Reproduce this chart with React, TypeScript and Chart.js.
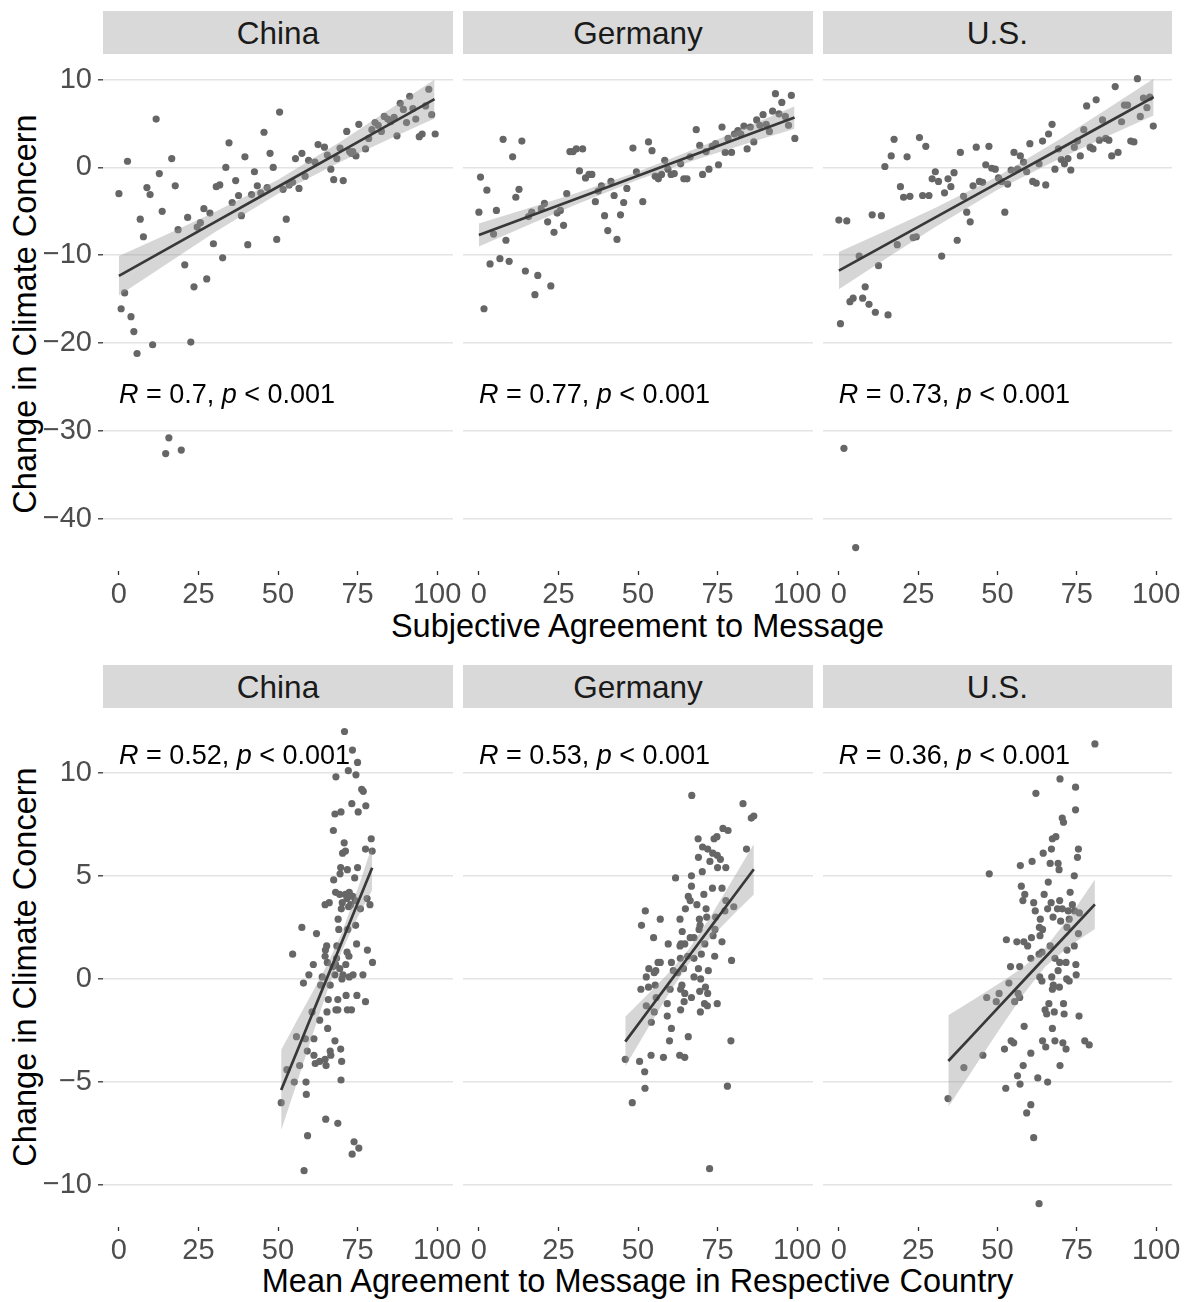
import React, { useEffect, useRef } from 'react';
import { Chart, registerables } from 'chart.js';

Chart.register(...registerables);

const W = 1192;
const H = 1302;
const FONT = '"Liberation Sans", Arial, Helvetica, sans-serif';

// ---------- labels ----------
const countries = ['China', 'Germany', 'U.S.'];
const xTicks = [0, 25, 50, 75, 100];
const topYTicks = [10, 0, -10, -20, -30, -40];
const bottomYTicks = [10, 5, 0, -5, -10];
const topR = ['0.7', '0.77', '0.73'];
const bottomR = ['0.52', '0.53', '0.36'];
const topXTitle = 'Subjective Agreement to Message';
const bottomXTitle = 'Mean Agreement to Message in Respective Country';
const yTitle = 'Change in Climate Concern';
const topYLimits = [-45.97, 12.8];
const bottomYLimits = [-12.03, 13.14];
const xLimits = [-5, 105];
const topLabelY = -26.85;
const bottomLabelY = 10.44;

// ---------- top row: subjective agreement ----------
const subjChina: [number, number][] = [
  [0, -3.0], [2.7, 0.7], [11.7, 5.5], [12.7, -0.7], [16.6, 1.0], [8.8, -2.3], [9.8, -3.1], [17.7, -2.1],
  [6.7, -5.9], [7.7, -7.9], [13.6, -5.0], [18.6, -7.1], [21.6, -5.7], [26.7, -4.7], [25.6, -6.3], [24.6, -6.8],
  [28.6, -5.2], [29.7, -8.7], [20.7, -11.1], [23.6, -13.6], [27.6, -12.7], [32.6, -10.3], [1.8, -14.3], [0.7, -16.1],
  [3.8, -17.0], [4.7, -18.7], [5.7, -21.2], [10.6, -20.2], [22.6, -19.9], [33.6, 0.0], [34.6, 2.8], [30.6, -2.2],
  [31.7, -2.0], [36.7, -1.5], [35.6, -4.0], [37.6, -3.2], [39.6, 1.2], [38.5, -5.5], [40.5, -8.8], [42.6, -0.5],
  [41.7, -3.1], [43.5, -2.1], [44.6, -2.9], [45.6, 4.0], [46.6, -2.3], [47.5, 1.6], [48.5, 0.0], [50.5, 6.3],
  [49.6, -8.2], [51.6, -2.5], [52.6, -5.9], [53.5, -2.0], [54.6, -1.7], [55.5, 1.0], [56.6, -2.4], [57.5, 1.6],
  [58.5, -1.0], [59.6, 0.8], [61.6, 0.6], [62.6, 2.6], [64.6, 2.3], [65.5, 1.4], [66.6, -0.2], [67.5, -1.4],
  [68.5, 1.0], [69.5, 2.2], [70.5, -1.5], [71.6, 4.1], [72.5, 1.8], [73.5, 1.8], [74.5, 1.3], [75.4, 4.9],
  [77.5, 2.1], [78.5, 3.3], [79.5, 4.3], [80.5, 5.1], [81.5, 4.8], [82.5, 4.1], [83.4, 5.8], [84.5, 5.5],
  [85.4, 5.2], [86.5, 5.7], [87.4, 3.6], [88.4, 7.3], [89.4, 6.6], [90.4, 5.1], [91.4, 8.1], [92.4, 6.7],
  [93.3, 5.5], [94.4, 3.5], [95.3, 3.8], [97.4, 8.9], [98.3, 6.0], [99.4, 3.8], [96.4, 7.0], [73.0, 1.6],
  [15.7, -30.8], [14.7, -32.6], [19.6, -32.2],
];

const subjGermany: [number, number][] = [
  [0.5, -1.1], [0, -5.1], [2.5, -2.6], [5.5, -4.9], [4.6, -7.6], [3.5, -11.0], [1.6, -16.1], [6.6, -10.4],
  [7.6, 3.2], [8.5, -8.3], [9.5, -10.7], [10.6, 1.2], [11.6, -3.4], [12.6, -2.5], [13.5, 3.0], [14.6, -11.8],
  [15.6, -5.6], [16.6, -5.1], [17.6, -14.5], [18.5, -12.3], [19.6, -4.7], [20.6, -4.1], [21.6, -6.2], [22.6, -13.5],
  [23.6, -7.4], [24.6, -5.2], [25.6, -4.9], [26.6, -6.6], [27.6, -3.0], [28.6, 1.8], [29.6, 1.8], [30.6, 2.1],
  [31.6, -0.4], [32.6, 2.1], [33.5, -1.2], [34.6, -0.8], [35.5, -0.8], [36.6, -3.9], [37.5, -2.7], [38.5, -2.1],
  [39.5, -5.5], [40.5, -7.2], [41.5, -1.6], [42.5, -3.2], [43.4, -8.2], [44.5, -5.4], [45.5, -4.0], [46.5, -2.4],
  [48.4, 2.2], [49.5, -0.5], [51.5, -3.9], [53.3, 2.9], [54.4, 1.9], [55.4, -1.0], [56.4, -1.3], [57.4, -0.8],
  [58.4, 0.8], [59.4, -0.2], [60.4, -0.8], [61.4, -0.7], [63.4, 0.4], [64.4, -1.3], [65.4, -1.3], [66.4, 1.2],
  [68.3, 4.3], [69.4, 2.5], [70.3, -0.8], [71.4, 1.8], [72.3, -0.2], [73.3, 2.4], [74.4, 2.7], [75.3, 0.3],
  [76.4, 4.6], [77.4, 1.7], [78.3, 3.3], [79.4, 1.7], [80.3, 3.8], [81.4, 4.2], [82.3, 3.8], [83.3, 4.7],
  [84.3, 2.1], [85.3, 4.6], [86.4, 2.9], [87.3, 5.4], [88.3, 4.8], [89.3, 6.0], [90.3, 4.9], [91.3, 4.1],
  [92.3, 6.4], [93.2, 8.4], [94.3, 6.1], [95.2, 7.4], [96.3, 5.8], [97.3, 4.8], [98.2, 8.2], [99.3, 3.3],
];

const subjUS: [number, number][] = [
  [0, -6.0], [2.5, -6.1], [0.5, -17.8], [3.5, -15.3], [4.5, -14.9], [6.4, -10.1], [7.5, -14.9], [8.3, -13.6],
  [9.5, -15.6], [10.5, -5.4], [11.5, -16.5], [12.5, -11.2], [13.4, -5.5], [14.5, 0.1], [15.5, -16.8], [16.5, 1.3],
  [17.4, 3.2], [18.4, -8.8], [19.4, -2.2], [20.4, -3.4], [21.5, 1.2], [22.4, -3.3], [23.4, -8.0], [24.4, -7.9],
  [25.4, 3.4], [26.4, -3.2], [27.4, 2.4], [28.4, -3.2], [29.4, -1.3], [30.4, -0.5], [31.4, -1.6], [32.4, -10.1],
  [33.3, -2.9], [34.4, -1.3], [35.3, -2.2], [36.3, -0.6], [37.3, -8.3], [38.3, 1.7], [39.3, -3.3], [40.3, -5.1],
  [41.4, -6.2], [42.3, -2.1], [43.3, 2.3], [44.3, -1.6], [45.3, -1.7], [46.3, 0.3], [47.3, 2.4], [48.2, -0.1],
  [49.3, -0.2], [50.3, -1.2], [51.3, -1.6], [52.3, -5.1], [53.2, -1.9], [54.3, -0.3], [55.2, 1.7], [56.3, -0.2],
  [57.2, 1.3], [58.2, 0.6], [59.2, -0.5], [60.2, 2.7], [61.1, -1.6], [62.2, -1.8], [63.1, 0.4], [64.2, 3.0],
  [65.2, -2.0], [66.1, 3.8], [67.2, 4.9], [68.1, -0.2], [69.2, 2.1], [70.1, 0.9], [71.1, 0.4], [72.2, 1.0],
  [73.1, -0.3], [74.2, 2.3], [75.2, 3.0], [76.1, 1.3], [77.2, 4.3], [78.1, 7.0], [79.2, 2.3], [80.1, 2.1],
  [81.1, 7.7], [82.1, 3.1], [83.1, 5.4], [84.1, 3.3], [85.1, 3.1], [86.0, 1.3], [87.1, 9.2], [88.0, 1.7],
  [89.1, 5.2], [90.0, 7.1], [91.0, 7.1], [92.0, 3.0], [93.0, 2.9], [94.1, 10.1], [95.0, 5.8], [96.0, 7.9],
  [97.1, 6.8], [98.0, 8.0], [99.1, 4.7], [1.6, -32.0], [5.3, -43.3],
];

// ---------- bottom row: mean agreement in country ----------
const meanChina: [number, number][] = [
  [70.9, 12.0], [73.4, 11.1], [75.0, 10.5], [72.1, 10.1], [68.2, 9.8], [74.5, 9.9], [76.3, 9.2], [76.8, 9.1],
  [73.2, 8.5], [75.2, 8.1], [77.6, 8.4], [67.9, 8.0], [69.8, 8.1], [67.4, 7.2], [70.8, 6.6], [79.3, 6.8],
  [77.5, 6.3], [79.6, 6.2], [70.3, 6.1], [71.2, 6.2], [69.7, 5.4], [71.8, 5.3], [75.0, 5.4], [69.5, 5.1],
  [67.5, 4.8], [74.1, 4.9], [68.1, 4.2], [69.4, 4.1], [71.2, 4.1], [72.4, 4.2], [71.7, 3.9], [73.5, 4.0],
  [70.2, 3.7], [74.3, 3.8], [66.1, 3.7], [64.8, 3.6], [72.8, 3.6], [69.9, 3.4], [72.2, 3.5], [78.0, 3.9],
  [78.9, 3.6], [75.9, 3.4], [68.9, 2.9], [57.5, 2.5], [62.1, 2.2], [69.1, 2.4], [71.9, 2.4], [74.4, 2.6],
  [65.3, 1.6], [64.9, 1.4], [68.5, 1.6], [71.7, 1.3], [74.7, 1.7], [78.1, 1.4], [54.6, 1.2], [61.1, 0.7],
  [64.8, 1.1], [68.4, 1.0], [72.3, 1.1], [71.3, 0.7], [67.3, 0.6], [69.4, 0.5], [79.7, 0.8], [59.7, 0.2],
  [63.9, 0.1], [67.9, 0.2], [70.4, 0.2], [76.7, 0.2], [73.6, 0.2], [65.5, 0.8], [68.1, 0.7], [72.4, 0.1],
  [58.0, -0.2], [63.4, -0.3], [66.4, -0.3], [70.1, 0.0], [65.8, -1.0], [68.8, -1.0], [71.4, -0.8], [74.8, -0.8],
  [77.5, -1.1], [68.2, -1.5], [68.8, -1.5], [71.8, -1.5], [73.1, -1.5], [60.7, -1.6], [65.4, -1.6], [63.1, -2.0],
  [65.6, -2.4], [67.9, -3.0], [55.8, -2.8], [61.3, -2.9], [58.6, -2.9], [59.2, -3.5], [66.4, -3.5], [69.7, -3.4],
  [61.3, -3.7], [66.6, -3.7], [61.7, -4.1], [63.1, -4.0], [64.8, -3.9], [65.1, -4.2], [70.0, -4.0], [52.8, -4.4],
  [56.8, -4.2], [55.1, -5.0], [58.8, -5.0], [69.8, -4.9], [58.9, -5.6], [51.0, -6.0], [65.0, -6.8], [68.8, -7.0],
  [59.3, -7.6], [73.9, -7.9], [75.4, -8.2], [73.3, -8.5], [58.2, -9.3],
];

const meanGermany: [number, number][] = [
  [66.9, 8.9], [83.0, 8.5], [85.6, 7.8], [86.4, 7.9], [76.7, 7.3], [78.3, 7.2], [68.9, 6.8], [73.9, 6.8],
  [74.8, 6.9], [70.3, 6.4], [71.9, 6.3], [73.5, 6.1], [74.9, 6.0], [75.9, 5.8], [69.0, 5.9], [72.6, 5.7],
  [75.0, 5.4], [77.6, 5.4], [84.1, 6.3], [70.2, 5.2], [66.8, 5.0], [61.8, 4.9], [66.8, 4.5], [73.4, 4.4],
  [76.4, 4.4], [70.7, 4.1], [65.8, 4.0], [66.4, 3.8], [77.6, 3.8], [68.5, 3.6], [71.4, 3.4], [64.9, 3.4],
  [80.1, 3.5], [77.3, 3.3], [52.3, 3.3], [51.1, 2.6], [57.0, 2.9], [63.2, 2.9], [69.3, 2.9], [71.6, 3.0],
  [74.4, 3.0], [69.5, 2.6], [69.2, 2.4], [63.9, 2.3], [74.2, 2.4], [73.6, 2.1], [54.9, 2.0], [59.5, 1.7],
  [63.5, 1.7], [64.7, 1.7], [66.4, 2.0], [67.6, 2.0], [76.4, 1.8], [71.0, 1.7], [63.2, 1.6], [56.3, 0.8],
  [57.0, 0.8], [60.5, 0.8], [63.3, 1.0], [65.6, 1.1], [67.6, 1.0], [69.9, 1.2], [74.1, 1.1], [79.4, 0.9],
  [53.4, 0.5], [55.6, 0.4], [61.1, 0.4], [64.3, 0.5], [69.0, 0.5], [72.1, 0.4], [52.6, 0.1], [55.1, 0.3],
  [62.4, 0.3], [67.6, 0.1], [69.7, 0.0], [71.2, -0.4], [50.9, -0.5], [53.3, -0.4], [55.4, -0.3], [63.8, -0.3],
  [60.1, -0.5], [63.4, -0.5], [64.7, -0.7], [69.4, -0.6], [71.9, -0.7], [74.9, -1.2], [70.9, -1.2], [71.8, -1.3],
  [66.8, -0.9], [64.5, -1.1], [59.2, -1.2], [55.7, -0.9], [52.6, -1.3], [55.1, -1.6], [63.4, -1.5], [69.6, -1.6],
  [59.2, -1.8], [54.2, -2.1], [60.5, -2.4], [65.8, -2.8], [59.9, -3.0], [79.2, -3.0], [46.0, -3.9], [50.5, -4.0],
  [54.1, -3.7], [58.0, -3.8], [63.1, -3.7], [64.7, -3.8], [52.1, -4.5], [52.2, -5.3], [48.2, -6.0], [78.1, -5.2],
  [72.5, -9.2],
];

const meanUS: [number, number][] = [
  [80.7, 11.4], [69.7, 9.7], [74.6, 9.3], [62.1, 9.0], [74.6, 8.2], [70.4, 7.8], [70.8, 7.6], [68.4, 6.9],
  [67.3, 6.8], [67.0, 6.3], [75.5, 6.3], [75.2, 5.9], [64.4, 6.1], [60.9, 5.7], [57.2, 5.5], [66.6, 5.6],
  [69.1, 5.6], [69.4, 5.3], [47.4, 5.1], [74.2, 5.0], [66.0, 4.7], [57.5, 4.5], [58.6, 4.1], [58.0, 3.8],
  [64.7, 4.1], [72.9, 4.2], [61.4, 3.7], [66.9, 3.7], [69.6, 3.8], [73.6, 3.6], [61.9, 3.3], [65.8, 3.4],
  [68.9, 3.4], [70.4, 3.4], [72.3, 3.3], [74.3, 3.3], [67.5, 3.0], [63.5, 2.9], [69.9, 2.8], [72.6, 2.9],
  [75.8, 3.2], [63.2, 2.5], [64.2, 2.4], [60.7, 2.0], [58.3, 1.8], [56.1, 1.8], [52.8, 1.9], [59.5, 1.6],
  [63.4, 2.1], [71.9, 2.5], [75.5, 2.2], [74.2, 1.6], [66.6, 1.6], [71.9, 1.4], [63.1, 1.2], [60.5, 1.0],
  [64.0, 1.3], [68.1, 1.0], [69.6, 0.8], [71.6, 0.8], [74.7, 0.7], [54.1, 0.6], [57.0, 0.6], [69.1, 0.4],
  [71.8, 0.0], [74.8, 0.2], [63.3, 0.1], [67.1, 0.1], [64.0, -0.1], [67.6, -0.3], [69.5, -0.4], [72.6, -0.1],
  [67.3, -0.5], [53.6, -0.2], [50.5, -0.7], [46.6, -0.9], [49.6, -1.1], [55.4, -1.1], [57.0, -0.9], [56.5, -0.7],
  [66.2, -1.2], [70.8, -1.2], [65.0, -1.5], [67.9, -1.6], [71.0, -1.7], [75.7, -1.8], [65.5, -1.7], [58.4, -2.3],
  [67.3, -2.4], [54.3, -3.0], [55.1, -3.1], [64.2, -3.0], [68.1, -3.0], [70.6, -3.1], [65.2, -3.3], [71.6, -3.4],
  [77.5, -3.0], [78.9, -3.2], [52.2, -3.4], [45.4, -3.7], [60.5, -3.6], [58.1, -4.2], [69.7, -4.2], [39.4, -4.3],
  [56.3, -4.7], [62.7, -4.8], [65.8, -5.0], [57.1, -5.1], [52.6, -5.3], [34.4, -5.8], [60.5, -6.1], [59.2, -6.5],
  [61.4, -7.7], [63.1, -10.9],
];

// ---------- fitted lines with 95% bands ----------
const smTopX = [0, 15, 30, 50, 70, 85, 99.2];
const smChinaTopFit = [-12.35, -9.31, -6.26, -2.2, 1.85, 4.9, 7.78];
const smChinaTopLo = [-14.6, -10.99, -7.42, -3.0, 0.69, 3.22, 5.56];
const smChinaTopHi = [-10.1, -7.63, -5.1, -1.4, 3.01, 6.58, 10.0];
const smGermanyTopFit = [-7.7, -5.68, -3.65, -0.95, 1.75, 3.78, 5.69];
const smGermanyTopLo = [-9.0, -6.64, -4.31, -1.4, 1.09, 2.81, 4.41];
const smGermanyTopHi = [-6.4, -4.71, -2.99, -0.5, 2.41, 4.74, 6.97];
const smUSTopFit = [-11.76, -8.77, -5.78, -1.8, 2.18, 5.17, 8.0];
const smUSTopLo = [-13.88, -10.35, -6.88, -2.56, 1.08, 3.59, 5.91];
const smUSTopHi = [-9.64, -7.19, -4.68, -1.04, 3.28, 6.75, 10.09];

const smChinaBotX = [51, 56, 61, 66, 70, 75, 79.6];
const smChinaBotFit = [-5.39, -3.51, -1.62, 0.27, 1.77, 3.66, 5.39];
const smChinaBotLo = [-7.34, -5.01, -2.65, -0.34, 1.32, 2.98, 4.31];
const smChinaBotHi = [-3.44, -2.0, -0.6, 0.87, 2.22, 4.34, 6.47];
const smGermanyBotX = [46, 53, 60, 66, 73, 80, 86.4];
const smGermanyBotFit = [-3.04, -1.59, -0.14, 1.1, 2.55, 4.0, 5.32];
const smGermanyBotLo = [-4.25, -2.42, -0.63, 0.75, 2.02, 3.12, 4.09];
const smGermanyBotHi = [-1.83, -0.76, 0.35, 1.45, 3.08, 4.88, 6.55];
const smUSBotX = [34.5, 42, 50, 58, 65, 73, 80.7];
const smUSBotFit = [-3.98, -2.75, -1.43, -0.11, 1.04, 2.35, 3.62];
const smUSBotLo = [-6.2, -4.45, -2.59, -0.78, 0.59, 1.63, 2.42];
const smUSBotHi = [-1.76, -1.05, -0.27, 0.56, 1.49, 3.08, 4.82];

// ---------- layout ----------
const colLeft = [103, 463, 823];
const colRight = [453, 813, 1172];
const rows = [
  { stripTop: 11, stripBottom: 54, panelTop: 55, panelBottom: 571, xTitleY: 628, yCenter: 314 },
  { stripTop: 665, stripBottom: 708, panelTop: 708, panelBottom: 1227, xTitleY: 1283, yCenter: 967 },
];
const X_AXIS_H = 40;

const fmtTick = (v: number) => (v < 0 ? '\u2212' + String(-v) : String(v));

type PanelProps = {
  col: number;
  row: number;
  points: [number, number][];
  smX: number[];
  fit: number[];
  lo: number[];
  hi: number[];
  yLimits: number[];
  yTicks: number[];
  r: string;
  labelY: number;
};

function Panel(props: PanelProps) {
  const ref = useRef<HTMLCanvasElement | null>(null);
  useEffect(() => {
    const canvas = ref.current;
    if (!canvas) return;
    const { col, row, points, smX, fit, lo, hi, yLimits, yTicks, r, labelY } = props;
    const R = rows[row];
    const showY = col === 0;
    const annot = {
      id: 'annot' + row + col,
      afterDatasetsDraw(chart: any) {
        const ctx = chart.ctx;
        let x = chart.scales.x.getPixelForValue(0);
        const y = chart.scales.y.getPixelForValue(labelY);
        const parts: [string, boolean][] = [['R', true], [' = ' + r + ', ', false], ['p', true], [' < 0.001', false]];
        ctx.save();
        ctx.fillStyle = '#000000';
        ctx.textAlign = 'left';
        ctx.textBaseline = 'alphabetic';
        for (const [t, it] of parts) {
          ctx.font = (it ? 'italic ' : '') + '27px ' + FONT;
          ctx.fillText(t, x, y);
          x += ctx.measureText(t).width;
        }
        ctx.restore();
      },
    };
    const chart = new Chart(canvas, {
      type: 'scatter',
      data: {
        datasets: [
          {
            type: 'scatter',
            data: points.map(([x, y]) => ({ x, y })),
            pointRadius: 3.6,
            pointBackgroundColor: '#666666',
            pointBorderWidth: 0,
            pointBorderColor: 'rgba(0,0,0,0)',
            order: 4,
          },
          {
            type: 'line',
            data: smX.map((x, i) => ({ x, y: lo[i] })),
            pointRadius: 0,
            borderWidth: 0,
            borderColor: 'rgba(0,0,0,0)',
            fill: false,
            order: 3,
          },
          {
            type: 'line',
            data: smX.map((x, i) => ({ x, y: hi[i] })),
            pointRadius: 0,
            borderWidth: 0,
            borderColor: 'rgba(0,0,0,0)',
            backgroundColor: 'rgba(153,153,153,0.4)',
            fill: '-1',
            order: 2,
          },
          {
            type: 'line',
            data: smX.map((x, i) => ({ x, y: fit[i] })),
            pointRadius: 0,
            borderWidth: 2.7,
            borderColor: '#383838',
            fill: false,
            order: 1,
          },
        ],
      } as any,
      options: {
        animation: false,
        responsive: false,
        devicePixelRatio: 1,
        events: [],
        layout: {
          padding: {
            left: showY ? 0 : colLeft[col],
            top: R.panelTop,
            right: W - colRight[col],
            bottom: H - R.panelBottom - X_AXIS_H,
          },
        },
        plugins: { legend: { display: false }, tooltip: { enabled: false } },
        scales: {
          x: {
            type: 'linear',
            min: xLimits[0],
            max: xLimits[1],
            afterBuildTicks: (s: any) => {
              s.ticks = xTicks.map((v) => ({ value: v }));
            },
            afterFit: (s: any) => {
              s.height = X_AXIS_H;
            },
            grid: { drawOnChartArea: false, drawTicks: true, tickLength: 4, tickColor: '#333333', tickWidth: 1.3 },
            border: { display: false },
            ticks: {
              font: { family: FONT, size: 29 },
              color: '#4d4d4d',
              padding: 3,
              maxRotation: 0,
              autoSkip: false,
              callback: (v: any) => fmtTick(v),
            },
          },
          y: {
            type: 'linear',
            min: yLimits[0],
            max: yLimits[1],
            afterBuildTicks: (s: any) => {
              s.ticks = yTicks.map((v) => ({ value: v }));
            },
            afterFit: (s: any) => {
              s.width = showY ? colLeft[0] : 0;
            },
            grid: {
              color: '#e3e3e3',
              lineWidth: 1.6,
              drawTicks: showY,
              tickLength: 5,
              tickColor: '#333333',
              tickWidth: 1.3,
            },
            border: { display: false },
            ticks: {
              display: showY,
              font: { family: FONT, size: 29 },
              color: '#4d4d4d',
              padding: 6,
              callback: (v: any) => fmtTick(v),
            },
          },
        },
      } as any,
      plugins: [annot],
    });
    return () => chart.destroy();
  }, []);
  return (
    <canvas
      ref={ref}
      width={W}
      height={H}
      style={{ position: 'absolute', left: 0, top: 0, width: W, height: H }}
    />
  );
}

const panels: PanelProps[] = [
  { col: 0, row: 0, points: subjChina, smX: smTopX, fit: smChinaTopFit, lo: smChinaTopLo, hi: smChinaTopHi, yLimits: topYLimits, yTicks: topYTicks, r: topR[0], labelY: topLabelY },
  { col: 1, row: 0, points: subjGermany, smX: smTopX, fit: smGermanyTopFit, lo: smGermanyTopLo, hi: smGermanyTopHi, yLimits: topYLimits, yTicks: topYTicks, r: topR[1], labelY: topLabelY },
  { col: 2, row: 0, points: subjUS, smX: smTopX, fit: smUSTopFit, lo: smUSTopLo, hi: smUSTopHi, yLimits: topYLimits, yTicks: topYTicks, r: topR[2], labelY: topLabelY },
  { col: 0, row: 1, points: meanChina, smX: smChinaBotX, fit: smChinaBotFit, lo: smChinaBotLo, hi: smChinaBotHi, yLimits: bottomYLimits, yTicks: bottomYTicks, r: bottomR[0], labelY: bottomLabelY },
  { col: 1, row: 1, points: meanGermany, smX: smGermanyBotX, fit: smGermanyBotFit, lo: smGermanyBotLo, hi: smGermanyBotHi, yLimits: bottomYLimits, yTicks: bottomYTicks, r: bottomR[1], labelY: bottomLabelY },
  { col: 2, row: 1, points: meanUS, smX: smUSBotX, fit: smUSBotFit, lo: smUSBotLo, hi: smUSBotHi, yLimits: bottomYLimits, yTicks: bottomYTicks, r: bottomR[2], labelY: bottomLabelY },
];

export default function App() {
  const xTitles = [topXTitle, bottomXTitle];
  return (
    <div style={{ position: 'absolute', left: 0, top: 0, width: W, height: H, background: '#ffffff', overflow: 'hidden' }}>
      {rows.map((R, ri) =>
        countries.map((c, ci) => (
          <div
            key={'s' + ri + ci}
            style={{
              position: 'absolute',
              left: colLeft[ci],
              top: R.stripTop,
              width: colRight[ci] - colLeft[ci],
              height: R.stripBottom - R.stripTop,
              background: '#d9d9d9',
              color: '#1a1a1a',
              font: '31.5px ' + FONT,
              lineHeight: R.stripBottom - R.stripTop + 'px',
              textAlign: 'center',
              paddingTop: 1,
              boxSizing: 'border-box',
            }}
          >
            {c}
          </div>
        ))
      )}
      {rows.map((R, ri) => (
        <div
          key={'xt' + ri}
          style={{
            position: 'absolute',
            left: colLeft[0],
            width: colRight[2] - colLeft[0],
            top: R.xTitleY - 20,
            height: 40,
            lineHeight: '40px',
            textAlign: 'center',
            font: '32.5px ' + FONT,
            color: '#000000',
          }}
        >
          {xTitles[ri]}
        </div>
      ))}
      {rows.map((R, ri) => (
        <div
          key={'yt' + ri}
          style={{
            position: 'absolute',
            left: 27 - 300,
            top: R.yCenter - 20,
            width: 600,
            height: 40,
            lineHeight: '40px',
            textAlign: 'center',
            font: '32.5px ' + FONT,
            color: '#000000',
            transform: 'rotate(-90deg)',
          }}
        >
          {yTitle}
        </div>
      ))}
      {panels.map((p, i) => (
        <Panel key={'p' + i} {...p} />
      ))}
    </div>
  );
}
